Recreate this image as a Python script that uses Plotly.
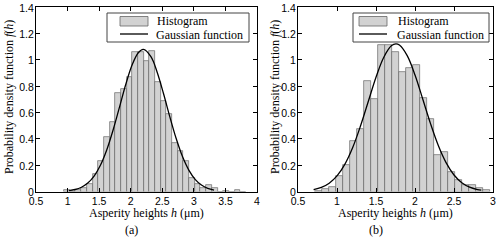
import plotly.graph_objects as go

# ---------------- data ----------------
# panel (a): histogram bin left edges and probability density
a_bin_left = [0.945, 1.035, 1.125, 1.215, 1.305, 1.395, 1.485, 1.575, 1.665, 1.755,
              1.845, 1.935, 2.025, 2.115, 2.205, 2.295, 2.385, 2.475, 2.565, 2.655,
              2.745, 2.835, 2.925, 3.015, 3.105, 3.195, 3.285, 3.375, 3.465, 3.555,
              3.645, 3.735]
a_density = [0.01, 0.0, 0.01, 0.025, 0.06, 0.13, 0.23, 0.41, 0.525, 0.75,
             0.78, 0.87, 1.06, 1.06, 0.99, 1.065, 0.83, 0.685, 0.585, 0.37,
             0.31, 0.23, 0.105, 0.06, 0.03, 0.05, 0.03, 0.0, 0.005, 0.0,
             0.008, 0.0]
a_bin_width = 0.09
# panel (a): Gaussian curve points
a_gx = [1.02, 1.12, 1.22, 1.32, 1.42, 1.52, 1.62, 1.72, 1.82, 1.92, 2.02, 2.12,
        2.2, 2.32, 2.42, 2.52, 2.62, 2.72, 2.82, 2.92, 3.02, 3.12, 3.22, 3.32]
a_gy = [0.0067, 0.0152, 0.0323, 0.0637, 0.1168, 0.199, 0.3154, 0.465, 0.636, 0.8097,
        0.9577, 1.053, 1.078, 1.0228, 0.9034, 0.7416, 0.566, 0.4016, 0.2648, 0.1624,
        0.0925, 0.049, 0.0241, 0.011]

# panel (b)
b_bin_left = [0.713, 0.803, 0.893, 0.983, 1.073, 1.163, 1.253, 1.343, 1.433, 1.523,
              1.613, 1.703, 1.793, 1.883, 1.973, 2.063, 2.153, 2.243, 2.333, 2.423,
              2.513, 2.603, 2.693, 2.783, 2.873]
b_density = [0.005, 0.02, 0.035, 0.115, 0.20, 0.383, 0.477, 0.84, 0.70, 1.11,
             1.11, 1.06, 0.908, 0.94, 0.96, 0.71, 0.553, 0.274, 0.30, 0.147,
             0.09, 0.05, 0.05, 0.03, 0.012]
b_bin_width = 0.09
b_gx = [0.7, 0.8, 0.9, 1.0, 1.1, 1.2, 1.3, 1.4, 1.5, 1.6, 1.7, 1.755, 1.8, 1.9,
        2.0, 2.1, 2.2, 2.3, 2.4, 2.5, 2.6, 2.7, 2.8, 2.85]
b_gy = [0.0139, 0.0306, 0.0626, 0.118, 0.206, 0.332, 0.495, 0.681, 0.867, 1.019,
        1.107, 1.12, 1.111, 1.031, 0.884, 0.700, 0.513, 0.347, 0.217, 0.125,
        0.067, 0.033, 0.0151, 0.0099]

a_xticks = [0.5, 1, 1.5, 2, 2.5, 3, 3.5, 4]
b_xticks = [0.5, 1, 1.5, 2, 2.5, 3]
yticks = [0, 0.2, 0.4, 0.6, 0.8, 1, 1.2, 1.4]

legend_labels = ["Histogram", "Gaussian function"]
x_title = "Asperity heights <i>h</i> (μm)"
y_title = "Probability density function <i>f</i>(<i>h</i>)"
panel_labels = ["(a)", "(b)"]

# ---------------- styling ----------------
W, H = 500, 240
SERIF = "Liberation Serif, Times New Roman, serif"
SANS = "Liberation Sans, Arial, sans-serif"
BAR_FILL = "#d2d2d2"
BAR_EDGE = "#656565"
TXT = 12


def px(x):
    return x / W


def py(y):
    return 1 - y / H


fig = go.Figure()

fig.add_trace(go.Bar(x=a_bin_left, y=a_density, width=a_bin_width, offset=0,
                     marker=dict(color=BAR_FILL, line=dict(color=BAR_EDGE, width=0.7)),
                     xaxis="x", yaxis="y", showlegend=False))
fig.add_trace(go.Scatter(x=a_gx, y=a_gy, mode="lines", line=dict(color="black", width=1.3, shape="spline"),
                         xaxis="x", yaxis="y", showlegend=False))
fig.add_trace(go.Bar(x=b_bin_left, y=b_density, width=b_bin_width, offset=0,
                     marker=dict(color=BAR_FILL, line=dict(color=BAR_EDGE, width=0.7)),
                     xaxis="x2", yaxis="y2", showlegend=False))
fig.add_trace(go.Scatter(x=b_gx, y=b_gy, mode="lines", line=dict(color="black", width=1.3, shape="spline"),
                         xaxis="x2", yaxis="y2", showlegend=False))

axis_common = dict(showline=True, linecolor="black", linewidth=1, mirror="ticks",
                   ticks="inside", ticklen=4, tickcolor="black", showgrid=False,
                   zeroline=False, automargin=False,
                   tickfont=dict(family=SANS, size=10.5, color="black"))

a_dom_x = [px(36), px(257)]
b_dom_x = [px(298), px(493)]
dom_y = [py(191.5), py(7)]

fig.update_layout(
    width=W, height=H, margin=dict(l=0, r=0, t=0, b=0, pad=0, autoexpand=False),
    paper_bgcolor="white", plot_bgcolor="white", barmode="overlay", bargap=0,
    xaxis=dict(domain=a_dom_x, range=[0.5, 4], tickvals=a_xticks, anchor="y",
               ticklabelstandoff=0, **axis_common),
    yaxis=dict(domain=dom_y, range=[0, 1.4], tickvals=yticks, anchor="x",
               ticklabelstandoff=-1, ticklabelshift=1, **axis_common),
    xaxis2=dict(domain=b_dom_x, range=[0.5, 3], tickvals=b_xticks, anchor="y2",
                ticklabelstandoff=0, **axis_common),
    yaxis2=dict(domain=dom_y, range=[0, 1.4], tickvals=yticks, anchor="x2",
                ticklabelstandoff=-1, ticklabelshift=1, **axis_common),
)

shapes = []
annotations = []


def add_legend(x0, x1, y0, y1, sx0, sx1, tx):
    shapes.append(dict(type="rect", xref="paper", yref="paper", x0=px(x0), x1=px(x1),
                       y0=py(y1), y1=py(y0), line=dict(color="#444444", width=1),
                       fillcolor="white", layer="above"))
    shapes.append(dict(type="rect", xref="paper", yref="paper", x0=px(sx0), x1=px(sx1),
                       y0=py(26), y1=py(16.5), line=dict(color=BAR_EDGE, width=0.8),
                       fillcolor=BAR_FILL, layer="above"))
    shapes.append(dict(type="line", xref="paper", yref="paper", x0=px(sx0), x1=px(sx1),
                       y0=py(34), y1=py(34), line=dict(color="black", width=1.3), layer="above"))
    annotations.append(dict(text=legend_labels[0], xref="paper", yref="paper", x=px(tx), y=py(21),
                            xanchor="left", yanchor="middle", showarrow=False,
                            font=dict(family=SERIF, size=TXT, color="black")))
    annotations.append(dict(text=legend_labels[1], xref="paper", yref="paper", x=px(tx - 1), y=py(34.5),
                            xanchor="left", yanchor="middle", showarrow=False,
                            font=dict(family=SERIF, size=TXT, color="black")))


add_legend(107, 249, 13, 42, 120, 148, 155)
add_legend(353, 489, 13, 42, 359, 387, 396)

for cx, ty_x in [(146.5, 9), (395.5, 275)]:
    annotations.append(dict(text=x_title, xref="paper", yref="paper", x=px(cx), y=py(213),
                            xanchor="center", yanchor="middle", showarrow=False,
                            font=dict(family=SERIF, size=TXT, color="black")))
    annotations.append(dict(text=y_title, xref="paper", yref="paper", x=px(ty_x), y=py(97),
                            xanchor="center", yanchor="middle", textangle=-90, showarrow=False,
                            font=dict(family=SERIF, size=TXT, color="black")))

annotations.append(dict(text=panel_labels[0], xref="paper", yref="paper", x=px(131), y=py(230),
                        xanchor="center", yanchor="middle", showarrow=False,
                        font=dict(family=SERIF, size=TXT, color="black")))
annotations.append(dict(text=panel_labels[1], xref="paper", yref="paper", x=px(376), y=py(230),
                        xanchor="center", yanchor="middle", showarrow=False,
                        font=dict(family=SERIF, size=TXT, color="black")))

fig.update_layout(shapes=shapes, annotations=annotations)

fig.write_html("out.html", config={"displayModeBar": False},
               post_script="document.body.style.margin='0px';document.body.style.padding='0px';")
